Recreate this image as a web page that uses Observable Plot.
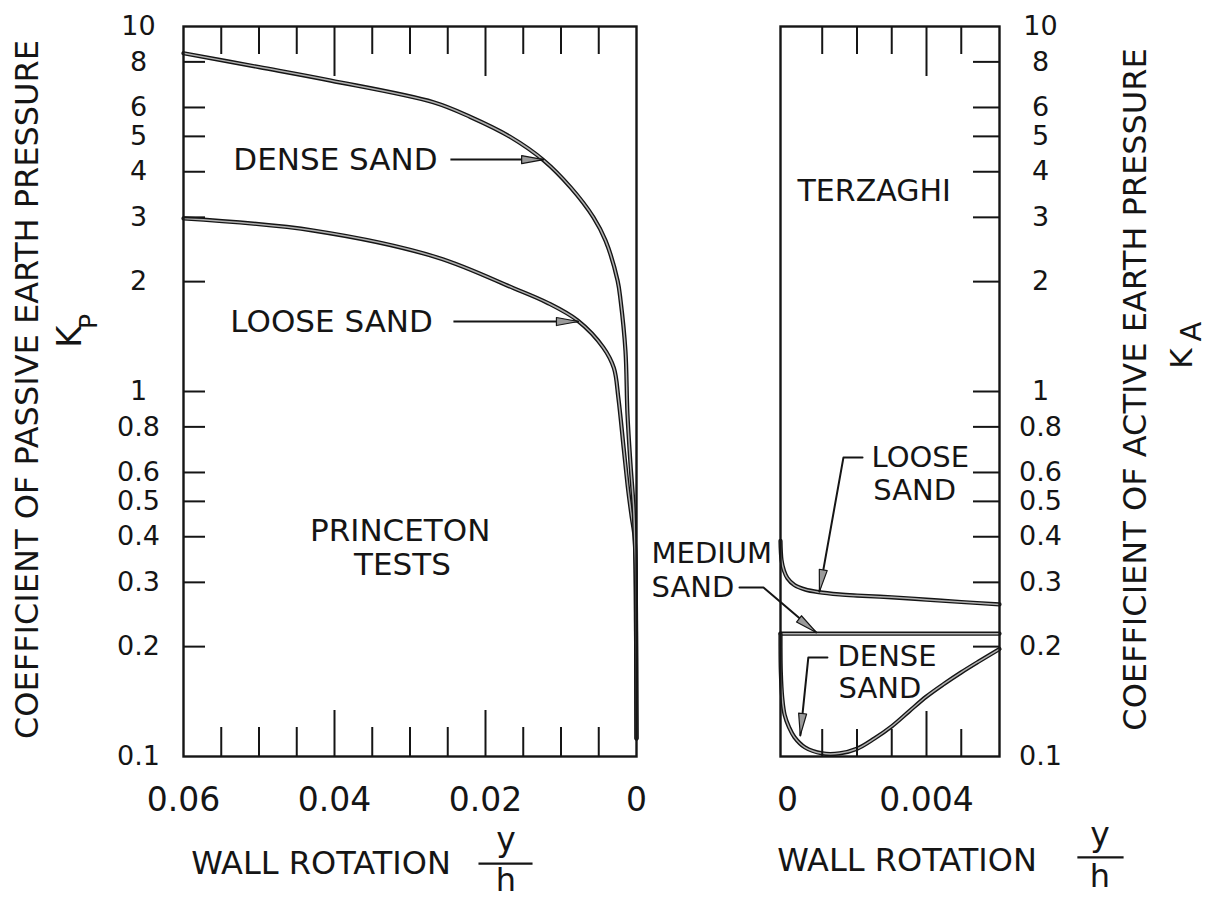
<!DOCTYPE html>
<html>
<head>
<meta charset="utf-8">
<script src="https://cdn.jsdelivr.net/npm/d3@7"></script>
<script src="https://cdn.jsdelivr.net/npm/@observablehq/plot@0.6"></script>
<style>
html, body { margin: 0; padding: 0; background: #fff; }
#chart { position: relative; width: 1213px; height: 899px; overflow: hidden; background: #fff; }
#chart svg { position: absolute; top: 0; }
g[aria-label="axis-title"] text { letter-spacing: 1.2px; }
g[aria-label="note"] text { letter-spacing: 0.6px; }
g[aria-label="y-axis tick label"] text { letter-spacing: 0.5px; }
</style>
</head>
<body>
<div id="chart"></div>
<script>
// ---------- axis ticks / labels ----------
const yTickValues = [0.2, 0.3, 0.4, 0.5, 0.6, 0.8, 1, 2, 3, 4, 5, 6, 8];
const yLabelValues = [0.1, 0.2, 0.3, 0.4, 0.5, 0.6, 0.8, 1, 2, 3, 4, 5, 6, 8, 10];
const passiveMinorTicks = [0.055, 0.05, 0.045, 0.035, 0.03, 0.025, 0.015, 0.01, 0.005];
const passiveMajorTicks = [0.04, 0.02];
const passiveXLabels = [0.06, 0.04, 0.02, 0];
const activeMinorTicks = [0.001, 0.002, 0.003, 0.005];
const activeMajorTicks = [0.004];
const activeXLabels = [0, 0.004];

// ---------- passive (Princeton tests) ----------
const passiveDenseX = [0.06, 0.05, 0.0405, 0.0269, 0.022, 0.0167, 0.0123, 0.0087, 0.0057, 0.0041, 0.0025, 0.0021, 0.00146, 0.0012, 0.0008, 0.0004, 0.00027, 0.00013, 0.00006, 0.00002, 0];
const passiveDenseK = [8.45, 7.74, 7.11, 6.2, 5.65, 4.98, 4.30, 3.62, 3.0, 2.59, 2.01, 1.77, 1.29, 0.87, 0.635, 0.49, 0.416, 0.338, 0.22, 0.14, 0.112];
const passiveLooseX = [0.06, 0.0428, 0.0264, 0.0163, 0.0118, 0.0078, 0.0044, 0.003, 0.0024, 0.0017, 0.0011, 0.00066, 0.00026, 0.00013, 0.00006, 0.00002, 0];
const passiveLooseK = [2.98, 2.76, 2.33, 1.92, 1.75, 1.565, 1.32, 1.16, 0.96, 0.70, 0.536, 0.457, 0.40, 0.338, 0.22, 0.14, 0.112];

// ---------- active (Terzaghi) ----------
const activeLooseX = [-0.0002, -0.00017, -0.0001, 0.0, 0.0002, 0.0005, 0.0009, 0.0015, 0.002, 0.003, 0.004, 0.005, 0.0061];
const activeLooseK = [0.39, 0.345, 0.323, 0.308, 0.295, 0.287, 0.282, 0.278, 0.276, 0.273, 0.269, 0.265, 0.261];
const activeMediumX = [-0.0002, 0.0061];
const activeMediumK = [0.217, 0.217];
const activeDenseX = [-0.0002, -0.00019, -0.00015, -0.00008, 0.00005, 0.0002, 0.0005, 0.001, 0.0015, 0.002, 0.0025, 0.003, 0.0035, 0.004, 0.0045, 0.005, 0.0055, 0.0061];
const activeDenseK = [0.217, 0.17, 0.145, 0.13, 0.12, 0.113, 0.106, 0.102, 0.102, 0.105, 0.112, 0.121, 0.133, 0.146, 0.158, 0.17, 0.182, 0.197];

// ---------- annotations ----------
const passiveNoteText = ["DENSE SAND", "LOOSE SAND"];
const passiveNoteX = [0.0534, 0.0538];
const passiveNoteK = [4.3, 1.55];
const passiveCenterText = ["PRINCETON", "TESTS"];
const passiveCenterX = [0.0313, 0.031];
const passiveCenterK = [0.4135, 0.334];
const passiveLeaderFromX = [0.02465, 0.02425];
const passiveLeaderToX = [0.0123, 0.00769];
const passiveLeaderK = [4.32, 1.555];

const activeNoteText = ["LOOSE", "SAND", "MEDIUM", "SAND", "DENSE", "SAND"];
const activeNoteX = [0.00242, 0.00247, -0.00391, -0.00391, 0.00144, 0.00147];
const activeNoteK = [0.659, 0.536, 0.36, 0.2904, 0.1873, 0.1536];
const activeTitleText = ["TERZAGHI"];
const activeTitleX = [0.00029];
const activeTitleK = [3.53];
const activeLeaderGroup = ["loose", "loose", "loose", "medium", "medium", "medium", "dense", "dense", "dense"];
const activeLeaderX = [0.00216, 0.00161, 0.00092, -0.00138, -0.00069, 0.00083, 0.00115, 0.0006, 0.00037];
const activeLeaderK = [0.659, 0.659, 0.283, 0.2904, 0.2904, 0.2187, 0.1867, 0.1867, 0.1142];
const activeHeadX = [0.00092, 0.00083, 0.00037];
const activeHeadK = [0.283, 0.2187, 0.1142];
const activeHeadAngle = [190, 128, 186];

// fraction bars of y/h (in data units of each panel)
const passiveBar = [{x1: 0.02093, x2: 0.01377, k: 0.0509}];
const activeBar = [{x1: 0.00834, x2: 0.00967, k: 0.0529}];

// ---------- helpers ----------
const zip = (xs, ks) => xs.map((x, i) => ({x, k: ks[i]}));
const ink = "#151515";
const FONT = "DejaVu Sans";
const headShape = {
  draw(ctx, l, r) { ctx.moveTo(0, -l); ctx.lineTo(r, 0); ctx.lineTo(-r, 0); ctx.closePath(); }
};
const curve = (data, opts = {}) => [
  Plot.line(data, {x: "x", y: "k", stroke: ink, strokeWidth: 4.2, curve: "catmull-rom", ...opts}),
  Plot.line(data, {x: "x", y: "k", stroke: "#b0b0b0", strokeWidth: 1.5, curve: "catmull-rom", ...opts})
];
const T = {fill: ink, textAnchor: "middle", lineAnchor: "middle"};

const H = 899, MT = 26, MB = 143, PH = H - MT - MB;

// ================= LEFT PANEL =================
const LW = 700, LML = 183, LMR = 64, LPW = LW - LML - LMR;
const passiveDense = zip(passiveDenseX, passiveDenseK);
const passiveLoose = zip(passiveLooseX, passiveLooseK);
const passiveNotes = passiveNoteText.map((t, i) => ({t, x: passiveNoteX[i], k: passiveNoteK[i]}));
const passiveCenter = passiveCenterText.map((t, i) => ({t, x: passiveCenterX[i], k: passiveCenterK[i]}));
const passiveLeaders = passiveLeaderK.map((k, i) => ({x1: passiveLeaderFromX[i], x2: passiveLeaderToX[i], k}));

const left = Plot.plot({
  width: LW, height: H,
  marginLeft: LML, marginRight: LMR, marginTop: MT, marginBottom: MB,
  style: {background: "transparent", fontFamily: FONT, color: ink},
  x: {domain: [0.06, 0]},
  y: {type: "log", domain: [0.1, 10], axis: null},
  marks: [
    ...curve(passiveLoose),
    ...curve(passiveDense),
    Plot.frame({stroke: ink, strokeWidth: 2.4}),
    Plot.tickY(yTickValues, {y: d => d, insetRight: LPW - 22, stroke: ink, strokeWidth: 2}),
    Plot.tickX(passiveMinorTicks, {x: d => d, insetBottom: PH - 28, stroke: ink, strokeWidth: 2}),
    Plot.tickX(passiveMajorTicks, {x: d => d, insetBottom: PH - 50, stroke: ink, strokeWidth: 2}),
    Plot.tickX(passiveMinorTicks, {x: d => d, insetTop: PH - 29, stroke: ink, strokeWidth: 2}),
    Plot.tickX(passiveMajorTicks, {x: d => d, insetTop: PH - 46, stroke: ink, strokeWidth: 2}),
    // y tick labels (through the y scale)
    Plot.text(yLabelValues, {y: d => d, text: d => String(d), frameAnchor: "left", dx: -45, fontSize: 27, ...T, ariaLabel: "y-axis tick label"}),
    Plot.axisX({anchor: "bottom", ticks: passiveXLabels, tickSize: 0, tickPadding: 31,
      fontSize: 33, tickFormat: d => String(d), label: null}),
    // leaders & arrowheads
    Plot.link(passiveLeaders, {x1: "x1", x2: "x2", y1: "k", y2: "k", stroke: ink, strokeWidth: 2}),
    Plot.vector(passiveLeaders, {x: "x2", y: "k", length: 22, r: 4, rotate: 90, anchor: "end",
      shape: headShape, fill: "#9a9a9a", stroke: ink, strokeWidth: 1.2}),
    // notes
    Plot.text(passiveNotes, {x: "x", y: "k", text: "t", fontSize: 31, ...T, textAnchor: "start", ariaLabel: "note"}),
    Plot.text(passiveCenter, {x: "x", y: "k", text: "t", fontSize: 31, ...T, ariaLabel: "note"}),
    // axis titles
    Plot.text(["COEFFICIENT OF PASSIVE EARTH PRESSURE"], {frameAnchor: "left", rotate: -90, dx: -156, dy: -2,
      fontSize: 32, ...T, ariaLabel: "axis-title"}),
    Plot.text(["K"], {frameAnchor: "left", rotate: -90, dx: -113, dy: -55, fontSize: 34, ...T}),
    Plot.text(["P"], {frameAnchor: "left", rotate: -90, dx: -95, dy: -70, fontSize: 25, ...T}),
    Plot.text(["WALL ROTATION"], {frameAnchor: "bottom", dx: -89, dy: 107, fontSize: 32, ...T, ariaLabel: "axis-title"}),
    Plot.text(["y"], {frameAnchor: "bottom", dx: 96, dy: 84, fontSize: 33, ...T}),
    Plot.text(["h"], {frameAnchor: "bottom", dx: 96, dy: 124, fontSize: 32, ...T}),
    Plot.link(passiveBar, {x1: "x1", x2: "x2", y1: "k", y2: "k", stroke: ink, strokeWidth: 2.2})
  ]
});
left.style.left = "0px";

// ================= RIGHT PANEL =================
const RX = 640, RW = 573, RML = 140, RMR = 214, RPW = RW - RML - RMR;
const activeLoose = zip(activeLooseX, activeLooseK);
const activeMedium = zip(activeMediumX, activeMediumK);
const activeDense = zip(activeDenseX, activeDenseK);
const activeNotes = activeNoteText.map((t, i) => ({t, x: activeNoteX[i], k: activeNoteK[i]}));
const activeTitle = activeTitleText.map((t, i) => ({t, x: activeTitleX[i], k: activeTitleK[i]}));
const activeLeaders = activeLeaderX.map((x, i) => ({x, k: activeLeaderK[i], g: activeLeaderGroup[i]}));
const activeHeads = activeHeadX.map((x, i) => ({x, k: activeHeadK[i], a: activeHeadAngle[i]}));

const right = Plot.plot({
  width: RW, height: H,
  marginLeft: RML, marginRight: RMR, marginTop: MT, marginBottom: MB,
  style: {background: "transparent", fontFamily: FONT, color: ink},
  x: {domain: [-0.0002, 0.0061]},
  y: {type: "log", domain: [0.1, 10], axis: null},
  marks: [
    ...curve(activeMedium),
    ...curve(activeLoose),
    ...curve(activeDense),
    Plot.frame({stroke: ink, strokeWidth: 2.4}),
    Plot.tickY(yTickValues, {y: d => d, insetLeft: RPW - 26, stroke: ink, strokeWidth: 2}),
    Plot.tickX(activeMinorTicks, {x: d => d, insetBottom: PH - 28, stroke: ink, strokeWidth: 2}),
    Plot.tickX(activeMajorTicks, {x: d => d, insetBottom: PH - 50, stroke: ink, strokeWidth: 2}),
    Plot.tickX(activeMinorTicks, {x: d => d, insetTop: PH - 27, stroke: ink, strokeWidth: 2}),
    Plot.tickX(activeMajorTicks, {x: d => d, insetTop: PH - 45, stroke: ink, strokeWidth: 2}),
    Plot.text(yLabelValues, {y: d => d, text: d => String(d), frameAnchor: "right", dx: 41, fontSize: 27, ...T, ariaLabel: "y-axis tick label"}),
    Plot.axisX({anchor: "bottom", ticks: activeXLabels, tickSize: 0, tickPadding: 31,
      fontSize: 33, tickFormat: d => String(d), label: null}),
    Plot.line(activeLeaders, {x: "x", y: "k", z: "g", stroke: ink, strokeWidth: 2}),
    Plot.vector(activeHeads, {x: "x", y: "k", length: 22, r: 4, rotate: "a", anchor: "end",
      shape: headShape, fill: "#9a9a9a", stroke: ink, strokeWidth: 1.2}),
    Plot.text(activeNotes, {x: "x", y: "k", text: "t", fontSize: 29, ...T, textAnchor: "start", ariaLabel: "note"}),
    Plot.text(activeTitle, {x: "x", y: "k", text: "t", fontSize: 30, ...T, textAnchor: "start", ariaLabel: "note"}),
    Plot.text(["COEFFICIENT OF ACTIVE EARTH PRESSURE"], {frameAnchor: "right", rotate: -90, dx: 136, dy: -2,
      fontSize: 32, ...T, ariaLabel: "axis-title"}),
    Plot.text(["K"], {frameAnchor: "right", rotate: -90, dx: 183, dy: -33, fontSize: 31, ...T}),
    Plot.text(["A"], {frameAnchor: "right", rotate: -90, dx: 192, dy: -60, fontSize: 29, ...T}),
    Plot.text(["WALL ROTATION"], {frameAnchor: "bottom", dx: 17, dy: 104, fontSize: 32, ...T, ariaLabel: "axis-title"}),
    Plot.text(["y"], {frameAnchor: "bottom", dx: 210, dy: 79, fontSize: 33, ...T}),
    Plot.text(["h"], {frameAnchor: "bottom", dx: 210, dy: 120, fontSize: 32, ...T}),
    Plot.link(activeBar, {x1: "x1", x2: "x2", y1: "k", y2: "k", stroke: ink, strokeWidth: 2.2})
  ]
});
right.style.left = RX + "px";

const chart = document.getElementById("chart");
chart.appendChild(left);
chart.appendChild(right);
</script>
</body>
</html>
